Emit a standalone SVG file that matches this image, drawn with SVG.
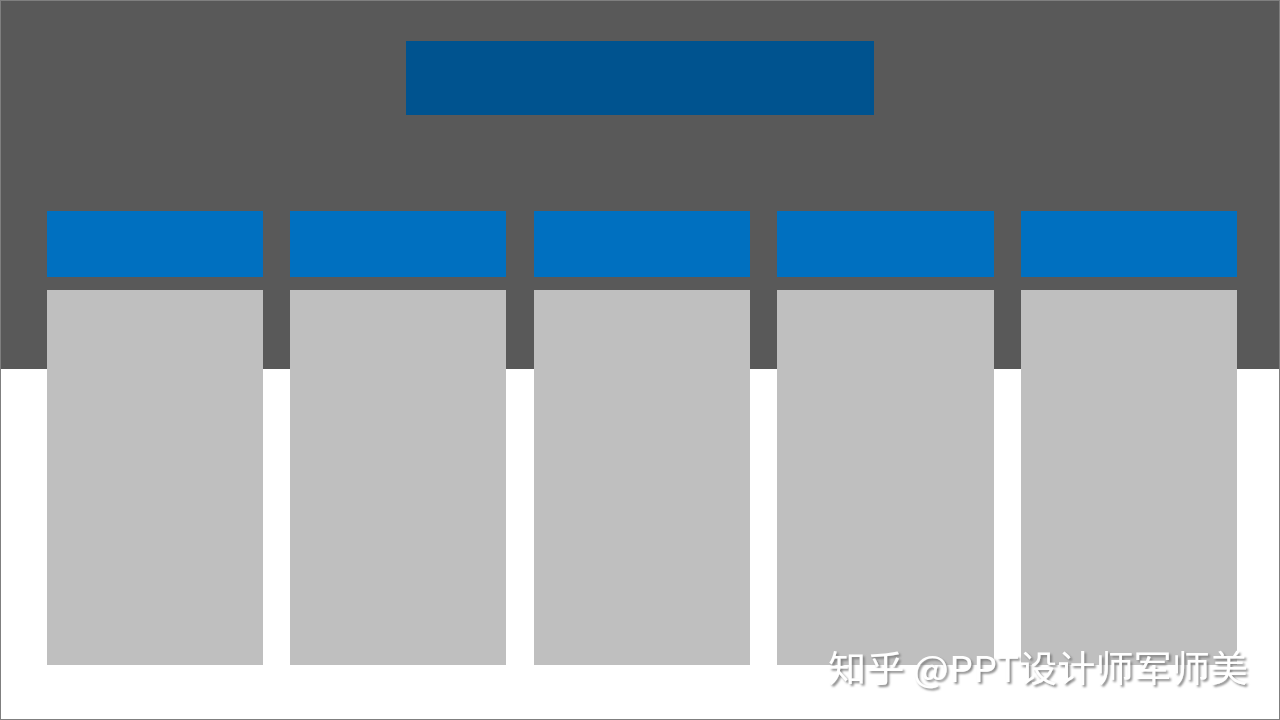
<svg xmlns="http://www.w3.org/2000/svg" width="1280" height="720" viewBox="0 0 1280 720">
<defs>
<style>
.hdr{fill:#0070c0}
.body{fill:#bfbfbf}
.wm{font-family:"Noto Sans CJK SC","Noto Sans",sans-serif;font-size:36px;font-weight:400}
</style>
<filter id="sh" x="-5%" y="-20%" width="110%" height="140%">
<feDropShadow dx="2" dy="2" stdDeviation="1" flood-color="#7a7a7a" flood-opacity="0.9"/>
</filter>
</defs>
<rect x="0" y="0" width="1280" height="720" fill="#ffffff"/>
<rect x="0" y="0" width="1280" height="369" fill="#595959"/>
<rect x="0.5" y="0.5" width="1279" height="719" fill="none" stroke="#7f7f7f" stroke-width="1"/>
<g id="title"><rect x="406" y="41" width="468" height="74" fill="#00538f"/></g>
<g id="col1"><rect class="hdr" x="47" y="211" width="216" height="66"/><rect class="body" x="47" y="290" width="216" height="375"/></g>
<g id="col2"><rect class="hdr" x="290" y="211" width="216" height="66"/><rect class="body" x="290" y="290" width="216" height="375"/></g>
<g id="col3"><rect class="hdr" x="534" y="211" width="216" height="66"/><rect class="body" x="534" y="290" width="216" height="375"/></g>
<g id="col4"><rect class="hdr" x="777" y="211" width="217" height="66"/><rect class="body" x="777" y="290" width="217" height="375"/></g>
<g id="col5"><rect class="hdr" x="1021" y="211" width="216" height="66"/><rect class="body" x="1021" y="290" width="216" height="375"/></g>
<g id="connectors"></g>
<text class="wm" x="828" y="682" fill="#ffffff" filter="url(#sh)" textLength="420" lengthAdjust="spacingAndGlyphs">知乎 @PPT设计师军师美</text>
</svg>
